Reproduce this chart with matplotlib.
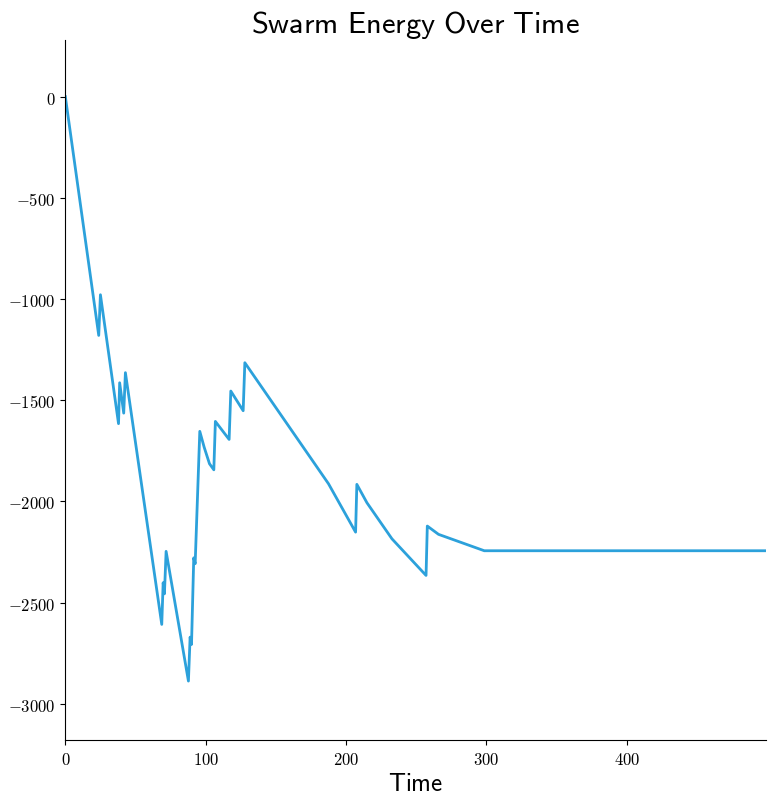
import matplotlib
matplotlib.use("Agg")
import matplotlib.pyplot as plt
from matplotlib.ticker import FuncFormatter

# energy of the swarm
time = [0, 23.8, 25.0, 37.9, 38.7, 41.6, 42.8, 68.7, 69.7, 70.6, 71.8,
        87.7, 88.9, 89.9, 91.5, 92.5, 95.8, 98.9, 102.7, 105.8, 106.9,
        116.7, 117.9, 126.7, 127.9, 187.5, 206.8, 207.7, 214.9, 232.7,
        257.0, 257.9, 265.9, 298.5, 499]
energy = [0, -1180, -979, -1616, -1414, -1564, -1364, -2608, -2402, -2457, -2247,
          -2888, -2671, -2707, -2279, -2308, -1654, -1732, -1814, -1844, -1605,
          -1694, -1455, -1552, -1315, -1913, -2152, -1916, -2007, -2185,
          -2366, -2122, -2163, -2244, -2244]

plt.rcParams['mathtext.fontset'] = 'cm'

fig = plt.figure(figsize=(7.75, 8.03), dpi=100)
ax = fig.add_axes([0.0843, 0.077, 0.9037, 0.872])

ax.plot(time, energy, color="#2ca1db", linewidth=2)

ax.set_xlim(0, 499)
ax.set_ylim(-3180, 280)
ax.set_xticks([0, 100, 200, 300, 400])
ax.set_yticks([0, -500, -1000, -1500, -2000, -2500, -3000])
ax.xaxis.set_major_formatter(FuncFormatter(lambda v, _: r'$%d$' % int(v)))
ax.yaxis.set_major_formatter(FuncFormatter(lambda v, _: r'$%d$' % int(v)))
ax.tick_params(labelsize=12)

ax.spines['top'].set_visible(False)
ax.spines['right'].set_visible(False)

ax.set_title(r'$\mathsf{Swarm\ Energy\ Over\ Time}$', fontsize=22, pad=6)
ax.set_xlabel(r'$\mathsf{Time}$', fontsize=18, labelpad=2)

fig.savefig("out.png", dpi=100)
